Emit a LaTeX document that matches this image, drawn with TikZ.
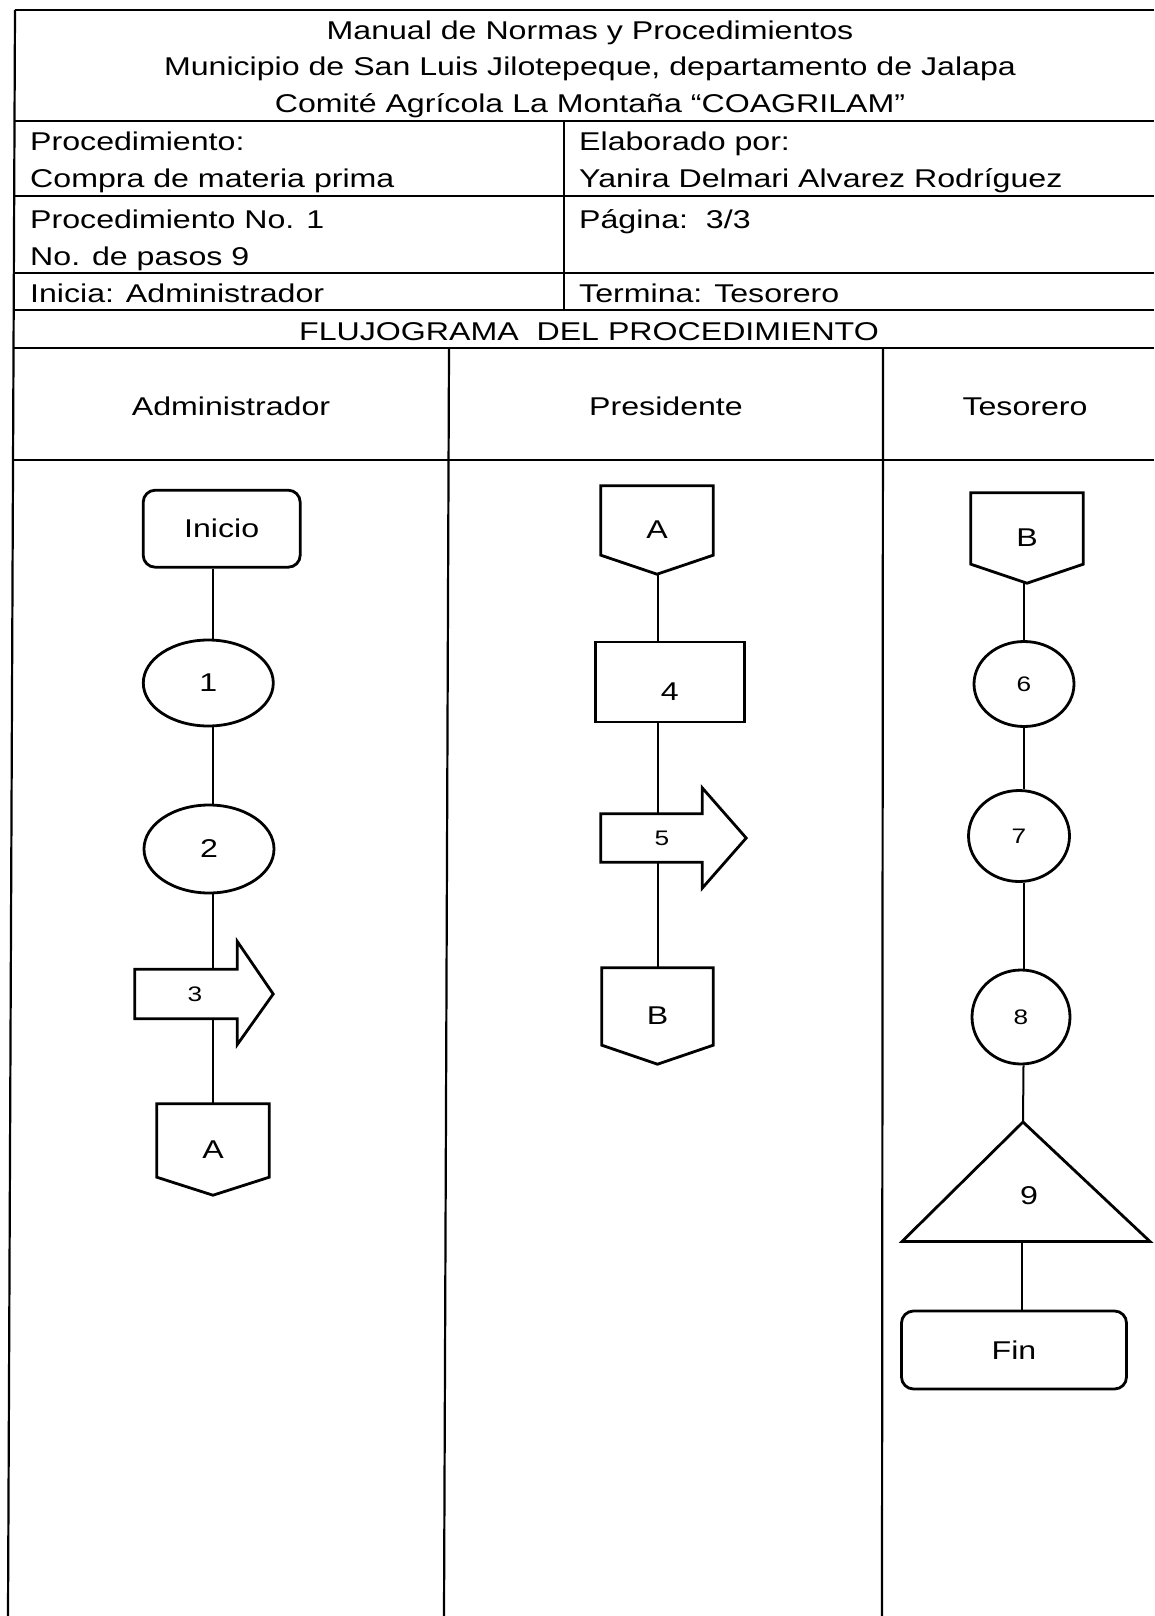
\documentclass[tikz,border=0pt]{standalone}
\usepackage{fontspec}
\setmainfont{Liberation Sans}[FakeStretch=1.25]
\usetikzlibrary{shapes.geometric}
\newcommand\offpagepath[2]{\draw[outline] (#1.north west) -- (#1.north east) -- ([yshift=#2pt]#1.south east) -- (#1.south) -- ([yshift=#2pt]#1.south west) -- cycle;}
\newcommand\movearrowpath[4]{\draw[outline] (#1.north west) -- (#1.north east) -- ([yshift=#2pt]#1.north east) -- ([xshift=#4pt]#1.east) -- ([yshift=-#3pt]#1.south east) -- (#1.south east) -- (#1.south west) -- cycle;}
\begin{document}
\begin{tikzpicture}[x=1pt,y=-1pt,
 base/.style={inner sep=0pt, font=\fontsize{25.7}{30}\selectfont},
 tline/.style={line width=2.2pt},
 shp/.style={draw, line width=2.8pt, inner sep=0pt, font=\fontsize{25.7}{30}\selectfont},
 smallnum/.style={font=\fontsize{21}{25}\selectfont},
 oval/.style={shp, ellipse},
 term/.style={shp, rectangle, rounded corners=12pt},
 proc/.style={shp, rectangle},
 blank/.style={inner sep=0pt, font=\fontsize{25.7}{30}\selectfont},
 link/.style={line width=2pt},
 outline/.style={line width=2.8pt, line join=miter},
]
\useasboundingbox (0,0) rectangle (1154,1616);
\fill[white] (0,0) rectangle (1154,1616);

% table
\draw[tline] (15,10) -- (1154,10);
\draw[tline] (15,10) -- (8,1616);
\foreach \yy in {121,196,273,310,348,460} \draw[tline] (14,\yy) -- (1154,\yy);
\draw[tline] (564,121) -- (564,310);
\draw[tline] (449,348) -- (444,1616);
\draw[tline] (883,348) -- (882,1616);

% header texts
\node[base, anchor=base] (t1) at (590,40) {Manual de Normas y Procedimientos};
\node[base, anchor=base] (t2) at (590,76) {Municipio de San Luis Jilotepeque, departamento de Jalapa};
\node[base, anchor=base] (t3) at (590,113) {Comité Agrícola La Montaña “COAGRILAM”};
\node[base, anchor=base west] (h1) at (30,151) {Procedimiento:};
\node[base, anchor=base west] (h2) at (30,188) {Compra de materia prima};
\node[base, anchor=base west] (h3) at (579,151) {Elaborado por:};
\node[base, anchor=base west] (h4) at (579,188) {Yanira Delmari Alvarez Rodríguez};
\node[base, anchor=base west] (h5) at (30,228) {Procedimiento No. 1};
\node[base, anchor=base west] (h6) at (30,265) {No. de pasos 9};
\node[base, anchor=base west] (h7) at (579,228) {Página:\ \ 3/3};
\node[base, anchor=base west] (h8) at (30,302) {Inicia: Administrador};
\node[base, anchor=base west] (h9) at (579,302) {Termina: Tesorero};
\node[base, anchor=base] (fl) at (589,340) {FLUJOGRAMA\ \ DEL PROCEDIMIENTO};
\node[base, anchor=base] (lane1) at (231,415) {Administrador};
\node[base, anchor=base] (lane2) at (666,415) {Presidente};
\node[base, anchor=base] (lane3) at (1025,415) {Tesorero};

\coordinate (L1) at (212.5,0);
\coordinate (L2) at (657.5,0);
\coordinate (L3) at (1023.5,0);

% lane 1
\node[term, minimum width=157pt, minimum height=77pt] (inicio) at (221.7,528.7) {Inicio};
\node[oval, minimum width=130pt, minimum height=86pt] (n1) at (208.3,683) {1};
\node[oval, minimum width=130pt, minimum height=88pt] (n2) at (209,849) {2};
\node[blank, smallnum, minimum width=102pt, minimum height=49pt] (n3) at (186,994) {\hspace*{18pt}3};
\movearrowpath{n3}{28}{26}{36}
\node[blank, minimum width=112pt, minimum height=91pt] (ca1) at (213,1149.5) {A};
\offpagepath{ca1}{18}

% lane 2
\node[blank, minimum width=112pt, minimum height=88pt] (ca2) at (657,530) {A};
\offpagepath{ca2}{19}
\node[proc, minimum width=149pt, minimum height=80pt, text height=36pt, text depth=0pt] (n4) at (669.7,682) {4};
\node[blank, smallnum, minimum width=101pt, minimum height=48pt] (n5) at (651.5,838) {\hspace*{21pt}5};
\movearrowpath{n5}{26}{26}{44}
\node[blank, minimum width=111pt, minimum height=96pt] (cb2) at (657.5,1016) {B};
\offpagepath{cb2}{19}

% lane 3
\node[blank, minimum width=112pt, minimum height=90pt] (cb3) at (1027,538) {B};
\offpagepath{cb3}{19}
\node[oval, smallnum, minimum width=100pt, minimum height=85pt] (n6) at (1024,684) {6};
\node[oval, smallnum, minimum width=101pt, minimum height=91pt] (n7) at (1019,836) {7};
\node[oval, smallnum, minimum width=98pt, minimum height=94pt] (n8) at (1021,1017) {8};
\coordinate (apex9) at (1023,1122);
\coordinate (base9) at (1022,1241.5);
\draw[outline] (apex9) -- (1150,1241.5) -- (902,1241.5) -- cycle;
\node[blank] (n9) at (1029,1196) {9};
\node[term, minimum width=225pt, minimum height=78pt] (fin) at (1014,1350) {Fin};

% connectors
\draw[link] (inicio.south -| L1) -- (n1.north -| L1);
\draw[link] (n1.south -| L1) -- (n2.north -| L1);
\draw[link] (n2.south -| L1) -- (n3.north -| L1);
\draw[link] (n3.south -| L1) -- (ca1.north -| L1);
\draw[link] (ca2.south -| L2) -- (n4.north -| L2);
\draw[link] (n4.south -| L2) -- (n5.north -| L2);
\draw[link] (n5.south -| L2) -- (cb2.north -| L2);
\draw[link] (cb3.south -| L3) -- (n6.north -| L3);
\draw[link] (n6.south -| L3) -- (n7.north -| L3);
\draw[link] (n7.south -| L3) -- (n8.north -| L3);
\draw[link] (n8.south -| L3) -- (apex9);
\draw[link] (base9) -- (base9 |- fin.north);
\end{tikzpicture}
\end{document}
